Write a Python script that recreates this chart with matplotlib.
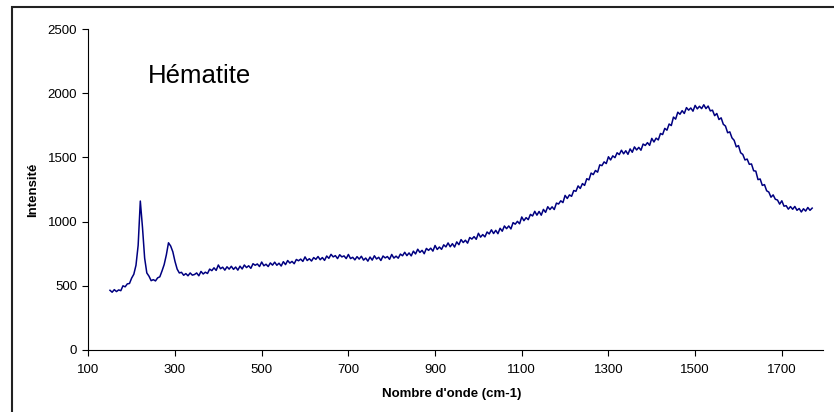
import numpy as np
import matplotlib
matplotlib.use('Agg')
import matplotlib.pyplot as plt
from matplotlib.patches import Rectangle

plt.rcParams['font.family'] = ['Liberation Sans', 'DejaVu Sans']

# Raman spectrum, one value every 5 cm-1 from 150 to 1770
wavenumber_start = 150
wavenumber_step = 5
intensity = [
    465, 450, 470, 455, 468, 462, 500, 492, 515, 518, 560, 590, 660, 815, 1160, 955, 715, 600, 575, 540,
    548, 538, 562, 570, 615, 665, 740, 835, 810, 765, 690, 630, 600, 605, 582, 595, 578, 600, 583, 588,
    600, 578, 612, 592, 606, 596, 630, 618, 640, 620, 662, 633, 645, 622, 648, 630, 652, 628, 646, 622,
    653, 631, 662, 642, 656, 636, 672, 660, 670, 650, 685, 656, 668, 650, 678, 661, 684, 660, 676, 654,
    688, 665, 697, 677, 690, 672, 705, 695, 708, 690, 725, 697, 711, 693, 720, 706, 728, 703, 720, 698,
    732, 714, 745, 725, 735, 712, 742, 725, 733, 712, 744, 712, 722, 702, 727, 708, 730, 700, 716, 692,
    724, 700, 734, 709, 722, 697, 732, 717, 728, 706, 744, 716, 731, 715, 747, 734, 761, 735, 756, 733,
    770, 748, 785, 760, 776, 750, 791, 776, 793, 770, 814, 783, 802, 784, 819, 803, 834, 804, 828, 802,
    842, 820, 860, 837, 855, 832, 876, 864, 883, 862, 909, 879, 899, 881, 919, 904, 936, 907, 932, 906,
    948, 925, 966, 945, 966, 943, 992, 980, 1002, 983, 1036, 1007, 1031, 1015, 1056, 1044, 1080, 1050, 1079, 1050,
    1095, 1072, 1116, 1094, 1115, 1094, 1144, 1137, 1162, 1148, 1204, 1180, 1208, 1197, 1242, 1236, 1278, 1258, 1296, 1282,
    1334, 1325, 1378, 1366, 1398, 1385, 1442, 1436, 1465, 1452, 1505, 1480, 1512, 1498, 1536, 1522, 1556, 1528, 1552, 1524,
    1566, 1540, 1582, 1558, 1578, 1556, 1604, 1593, 1615, 1594, 1648, 1620, 1650, 1636, 1686, 1678, 1726, 1712, 1760, 1748,
    1814, 1798, 1852, 1836, 1864, 1842, 1888, 1868, 1885, 1860, 1905, 1878, 1898, 1880, 1910, 1880, 1900, 1862, 1868, 1825,
    1842, 1795, 1808, 1758, 1744, 1692, 1699, 1652, 1633, 1582, 1592, 1536, 1523, 1480, 1487, 1446, 1449, 1396, 1393, 1327,
    1332, 1282, 1288, 1240, 1230, 1190, 1208, 1174, 1168, 1136, 1162, 1120, 1124, 1097, 1117, 1096, 1118, 1088, 1102, 1075,
    1100, 1082, 1110, 1088, 1105,
]
wavenumber = wavenumber_start + wavenumber_step * np.arange(len(intensity))

x_ticks = [100, 300, 500, 700, 900, 1100, 1300, 1500, 1700]
y_ticks = [0, 500, 1000, 1500, 2000, 2500]

fig = plt.figure(figsize=(8.34, 4.12), dpi=100)
ax = fig.add_axes([88.3 / 834, 62 / 412, (823 - 88.3) / 834, 321 / 412])

ax.plot(wavenumber, intensity, color='#000080', lw=1.1)

ax.set_xlim(100, 1795)
ax.set_ylim(0, 2500)
ax.set_xticks(x_ticks)
ax.set_yticks(y_ticks)
ax.tick_params(direction='out', length=4, width=0.8, labelsize=9.5, pad=4, colors='black')
ax.tick_params(axis='x', pad=6)

for side in ['top', 'right']:
    ax.spines[side].set_visible(False)
for side in ['left', 'bottom']:
    ax.spines[side].set_linewidth(0.8)
    ax.spines[side].set_color('black')

ax.set_xlabel("Nombre d'onde (cm-1)", fontsize=9.5, fontweight='bold')
ax.set_ylabel('Intensité', fontsize=9.5, fontweight='bold')
ax.xaxis.set_label_coords(0.495, -0.137)
ax.xaxis.label.set_va('center')
ax.yaxis.set_label_coords(-0.075, 0.5)
ax.yaxis.label.set_va('center')

fig.text(147.7 / 834, (412 - 83.3) / 412, 'Hématite', fontsize=18.5, va='baseline', ha='left')

# outer chart frame, only its left and top edges are inside the picture
fig.patches.append(Rectangle((12 / 834, -0.1), 1.2, (412 - 7.3) / 412 + 0.1,
                             transform=fig.transFigure, fill=False, lw=1.5, ec='#222222'))

fig.savefig('out.png', dpi=100)
